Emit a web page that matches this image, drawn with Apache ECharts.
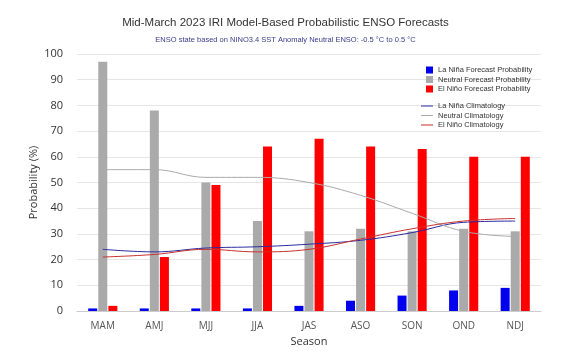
<!DOCTYPE html>
<html>
<head>
<meta charset="utf-8">
<script src="https://cdn.jsdelivr.net/npm/echarts@6/dist/echarts.min.js"></script>
<style>
  html, body { margin: 0; padding: 0; background: #fff; }
  #chart { width: 571px; height: 353px; }
</style>
</head>
<body>
<div id="chart"></div>
<script>
var seasons = ['MAM', 'AMJ', 'MJJ', 'JJA', 'JAS', 'ASO', 'SON', 'OND', 'NDJ'];
var laNinaProb = [1, 1, 1, 1, 2, 4, 6, 8, 9];
var neutralProb = [97, 78, 50, 35, 31, 32, 31, 32, 31];
var elNinoProb = [2, 21, 49, 64, 67, 64, 63, 60, 60];
var laNinaClim = [24, 23, 24.5, 25, 26, 27.5, 30.5, 34.5, 35];
var neutralClim = [55, 55, 52, 52, 50, 45, 38, 31, 29];
var elNinoClim = [21, 22, 24, 23, 24, 28, 32, 35, 36];

var chart = echarts.init(document.getElementById('chart'));

var legendText = { fontSize: 7.5, lineHeight: 8, color: '#333', fontFamily: 'Liberation Sans' };

var option = {
  animation: false,
  textStyle: { fontFamily: 'Open Sans' },
  title: {
    text: 'Mid-March 2023 IRI Model-Based Probabilistic ENSO Forecasts',
    subtext: 'ENSO state based on NINO3.4 SST Anomaly Neutral ENSO: -0.5 °C to 0.5 °C',
    left: 'center',
    top: 12,
    itemGap: 7,
    textStyle: { fontSize: 11.5, fontWeight: 'normal', color: '#333', fontFamily: 'Liberation Sans' },
    subtextStyle: { fontSize: 7.5, color: '#3b3b8f', fontFamily: 'Liberation Sans' }
  },
  legend: [
    {
      data: ['La Niña Forecast Probability', 'Neutral Forecast Probability', 'El Niño Forecast Probability'],
      orient: 'vertical',
      left: 421,
      top: 61,
      itemWidth: 7,
      itemHeight: 7,
      itemGap: 1.5,
      icon: 'rect',
      textStyle: legendText
    },
    {
      data: ['La Niña Climatology', 'Neutral Climatology', 'El Niño Climatology'],
      orient: 'vertical',
      left: 416,
      top: 97,
      itemWidth: 12,
      itemHeight: 7,
      itemGap: 1.5,
      icon: 'path://M0,0 L12,0 L12,1 L0,1 Z',
      textStyle: legendText
    }
  ],
  grid: { left: 77, right: 30, top: 54, bottom: 42 },
  xAxis: {
    type: 'category',
    data: seasons,
    name: 'Season',
    nameLocation: 'middle',
    nameGap: 22,
    nameTextStyle: { fontSize: 11, color: '#333' },
    axisLine: { lineStyle: { color: '#ccc' } },
    axisTick: { show: false },
    axisLabel: { fontSize: 10, color: '#555', margin: 10 }
  },
  yAxis: {
    type: 'value',
    min: 0,
    max: 100,
    interval: 10,
    name: 'Probability (%)',
    nameLocation: 'middle',
    nameGap: 38,
    nameMoveOverlap: false,
    nameTextStyle: { fontSize: 11, color: '#333' },
    axisLine: { show: false },
    axisTick: { show: false },
    axisLabel: { fontSize: 11, color: '#333', margin: 14 },
    splitLine: { lineStyle: { color: '#e6e6e6' } }
  },
  series: [
    { name: 'La Niña Forecast Probability', type: 'bar', data: laNinaProb, barWidth: 9, barGap: '12%', itemStyle: { color: '#0000ee' } },
    { name: 'Neutral Forecast Probability', type: 'bar', data: neutralProb, barWidth: 9, barGap: '12%', itemStyle: { color: '#aaaaaa' } },
    { name: 'El Niño Forecast Probability', type: 'bar', data: elNinoProb, barWidth: 9, barGap: '12%', itemStyle: { color: '#ff0000' } },
    { name: 'La Niña Climatology', type: 'line', data: laNinaClim, smooth: 0.4, symbol: 'none', lineStyle: { color: '#2a2aa0', width: 1 }, itemStyle: { color: '#2a2aa0' } },
    { name: 'Neutral Climatology', type: 'line', data: neutralClim, smooth: 0.4, symbol: 'none', lineStyle: { color: '#aaaaaa', width: 1 }, itemStyle: { color: '#aaaaaa' } },
    { name: 'El Niño Climatology', type: 'line', data: elNinoClim, smooth: 0.4, symbol: 'none', lineStyle: { color: '#c8302c', width: 1 }, itemStyle: { color: '#c8302c' } }
  ]
};

chart.setOption(option);
</script>
</body>
</html>
